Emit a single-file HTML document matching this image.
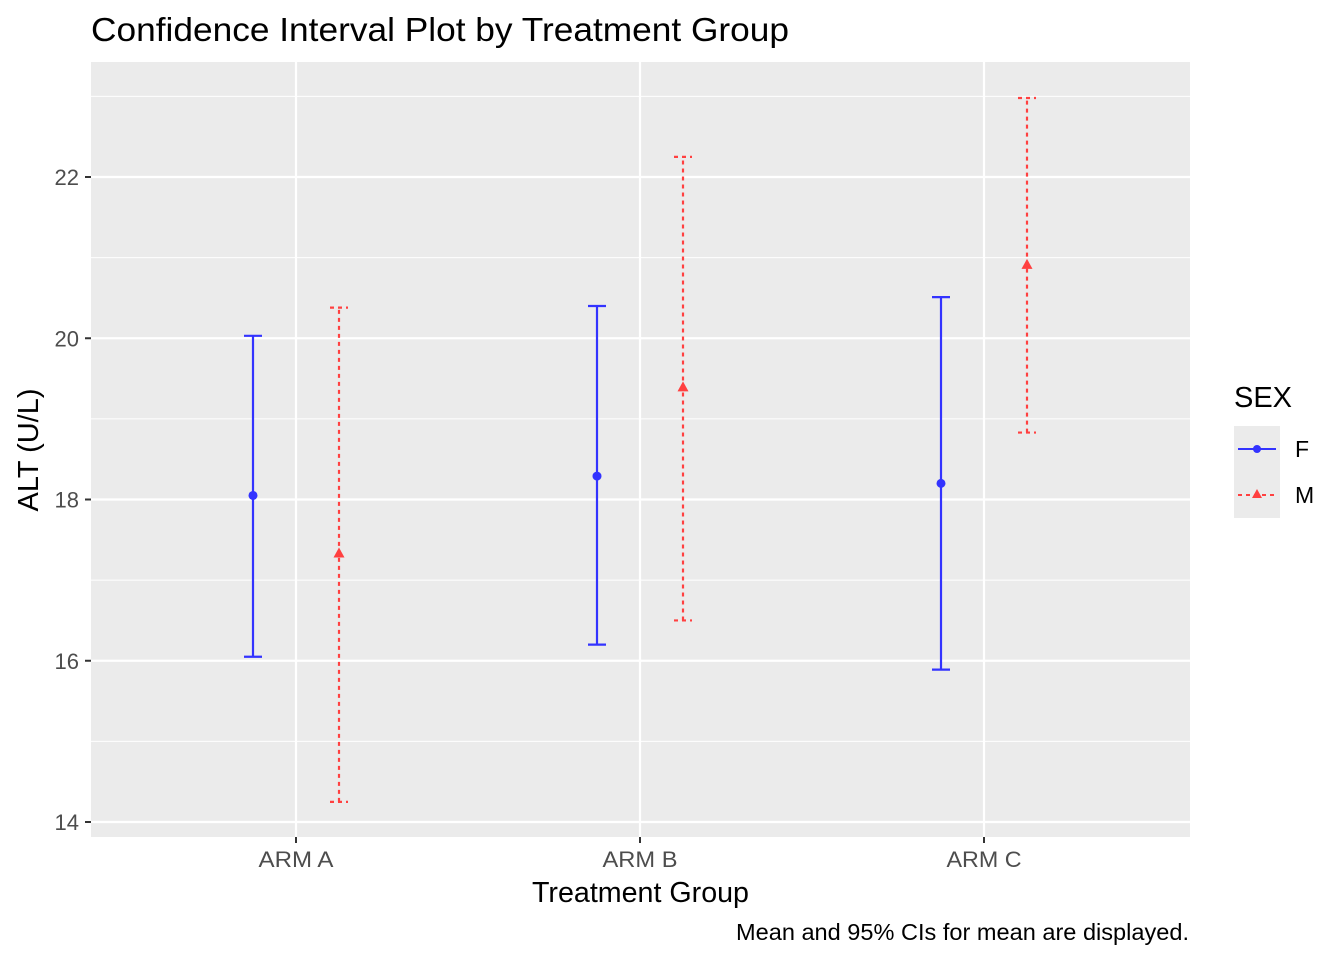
<!DOCTYPE html>
<html><head><meta charset="utf-8"><style>
body{margin:0;background:#fff;font-family:"Liberation Sans",sans-serif;}
svg text{font-family:"Liberation Sans",sans-serif;}
</style></head><body>
<svg id="chart" width="1344" height="960" xmlns="http://www.w3.org/2000/svg">
<rect width="1344" height="960" fill="#fff"/>
<text x="91" y="41" font-size="33" textLength="698" lengthAdjust="spacingAndGlyphs" fill="#000">Confidence Interval Plot by Treatment Group</text>
<rect x="91" y="62" width="1099" height="775" fill="#ebebeb"/>
<g id="grid"></g>
<g id="marks"></g>
<g id="axes"></g>
<text x="532" y="902" font-size="29" textLength="217" lengthAdjust="spacingAndGlyphs">Treatment Group</text>
<text transform="translate(38,450) rotate(-90)" font-size="29" text-anchor="middle">ALT (U/L)</text>
<text x="736" y="940" font-size="23" textLength="453" lengthAdjust="spacingAndGlyphs">Mean and 95% CIs for mean are displayed.</text>
<g>
<text x="1234" y="407" font-size="29">SEX</text>
<rect x="1234" y="426" width="46" height="92" fill="#ebebeb"/>
<g>
<line x1="1238" y1="449" x2="1276" y2="449" stroke="#3333ff" stroke-width="2"/>
<circle cx="1257" cy="449" r="4" fill="#3333ff"/>
<text x="1295" y="457" font-size="23">F</text></g>
<g>
<line x1="1238" y1="495" x2="1276" y2="495" stroke="#ff4040" stroke-width="2" stroke-dasharray="4,4"/>
<polygon points="1257,489 1262,498 1252,498" fill="#ff4040"/>
<text x="1295" y="503" font-size="23">M</text></g>
</g>
</svg>
<script>
const groups=["ARM A","ARM B","ARM C"];
const fMean=[18.05,18.29,18.2];
const fLow=[16.05,16.2,15.89];
const fHigh=[20.03,20.4,20.51];
const mMean=[17.33,19.39,20.91];
const mLow=[14.25,16.5,18.83];
const mHigh=[20.38,22.25,22.98];
const yTicks=[14,16,18,20,22];
const NS="http://www.w3.org/2000/svg";
const y=v=>822-(v-14)*80.625;
const x=i=>296+i*344;
function mk(tag,attrs,parent){const e=document.createElementNS(NS,tag);for(const k in attrs)e.setAttribute(k,attrs[k]);document.getElementById(parent).appendChild(e);return e;}
for(let v=14;v<=23;v+=1){const major=yTicks.includes(v);
const l=mk('line',{x1:91,x2:1190,y1:y(v),y2:y(v),stroke:'#fff','stroke-width':major?2.2:1.1},'grid');

}
groups.forEach((g,i)=>{const l=mk('line',{x1:x(i),x2:x(i),y1:62,y2:837,stroke:'#fff','stroke-width':2.2},'grid');


const t=mk('line',{x1:x(i),x2:x(i),y1:837,y2:843,stroke:'#333','stroke-width':2},'axes');


const tx=mk('text',{x:x(i),y:867,'font-size':22,fill:'#4d4d4d','text-anchor':'middle',textLength:75,lengthAdjust:'spacingAndGlyphs'},'axes');tx.textContent=g;

});
yTicks.forEach(v=>{const t=mk('line',{x1:85,x2:91,y1:y(v),y2:y(v),stroke:'#333','stroke-width':2},'axes');


const tx=mk('text',{x:79,y:y(v)+8,'font-size':22,fill:'#4d4d4d','text-anchor':'end'},'axes');tx.textContent=v;

});
function series(mean,low,high,off,color,dash,sex){
groups.forEach((g,i)=>{const cx=x(i)+off;
const grp=mk('g',{},'marks');


const a={stroke:color,'stroke-width':2.2};if(dash)a['stroke-dasharray']=dash;
const add=(at)=>{const o=Object.assign({},a,at);const e=document.createElementNS(NS,'line');for(const k in o)e.setAttribute(k,o[k]);grp.appendChild(e);};
add({x1:cx,x2:cx,y1:y(low[i]),y2:y(high[i])});
add({x1:cx-9,x2:cx+9,y1:y(low[i]),y2:y(low[i])});
add({x1:cx-9,x2:cx+9,y1:y(high[i]),y2:y(high[i])});
let p;
if(sex==='f'){p=document.createElementNS(NS,'circle');p.setAttribute('cx',cx);p.setAttribute('cy',y(mean[i]));p.setAttribute('r',4.5);}
else{p=document.createElementNS(NS,'polygon');const cy=y(mean[i]);p.setAttribute('points',`${cx},${cy-6} ${cx+5.5},${cy+4} ${cx-5.5},${cy+4}`);}
p.setAttribute('fill',color);grp.appendChild(p);});}
series(fMean,fLow,fHigh,-43,'#3333ff',null,'f');
series(mMean,mLow,mHigh,43,'#ff4040','4,4','m');
</script>
</body></html>
